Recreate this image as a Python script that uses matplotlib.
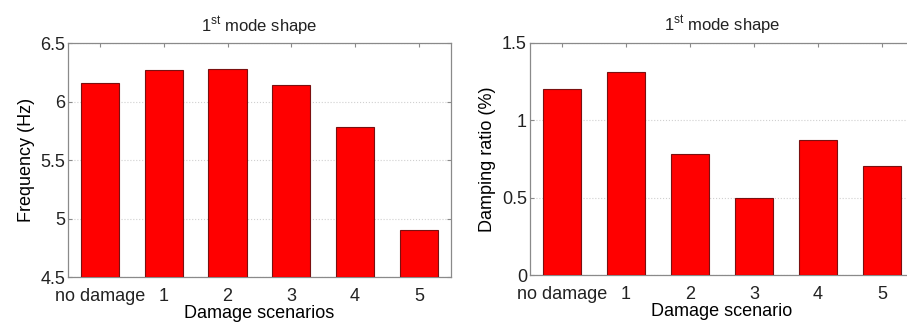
import numpy as np
import matplotlib
matplotlib.use('Agg')
import matplotlib.pyplot as plt

plt.rcParams['font.family'] = ['Liberation Sans', 'DejaVu Sans']
plt.rcParams['mathtext.fontset'] = 'custom'
plt.rcParams['mathtext.rm'] = 'Liberation Sans'
plt.rcParams['text.color'] = '#222222'

# Data
scenarios = ['no damage', '1', '2', '3', '4', '5']
frequency = [6.16, 6.27, 6.28, 6.14, 5.78, 4.90]
damping = [1.20, 1.31, 0.785, 0.495, 0.873, 0.705]

fs = 13
frame_col = '#8a8a8a'

fig = plt.figure(figsize=(9.07, 3.24), dpi=100)
ax1 = fig.add_axes([0.075, 0.145, 0.422, 0.722])
ax2 = fig.add_axes([0.584, 0.151, 0.424, 0.717])


def style(ax, values, ylim, yticks, ylabel, xlabel):
    x = np.arange(1, len(values) + 1)
    ax.bar(x, np.array(values) - ylim[0], bottom=ylim[0], width=0.6,
           color='#ff0000', edgecolor='#7a1010', linewidth=0.8, zorder=3)
    ax.set_xlim(0.5, len(values) + 0.5)
    ax.set_ylim(*ylim)
    ax.set_xticks(x)
    ax.set_xticklabels(scenarios, fontsize=fs, color='#222222')
    ax.set_yticks(yticks)
    ax.set_yticklabels([('%g' % t) for t in yticks], fontsize=fs, color='#222222')
    ax.set_ylabel(ylabel, fontsize=fs, labelpad=4)
    ax.set_xlabel(xlabel, fontsize=fs, labelpad=0)
    ax.set_title(r'1$^{\mathrm{st}}$ mode shape', fontsize=fs - 1, pad=8)
    ax.grid(axis='y', linestyle=':', color='#d0d0d0', linewidth=0.8, zorder=0)
    ax.tick_params(direction='in', length=3, color=frame_col, pad=2,
                   top=True, right=True)
    ax.tick_params(axis='x', pad=8)
    for s in ax.spines.values():
        s.set_color(frame_col)
        s.set_linewidth(0.9)


style(ax1, frequency, (4.5, 6.5), [4.5, 5, 5.5, 6, 6.5],
      'Frequency (Hz)', 'Damage scenarios')
style(ax2, damping, (0, 1.5), [0, 0.5, 1, 1.5],
      'Damping ratio (%)', 'Damage scenario')

fig.savefig('out.png', dpi=100)
